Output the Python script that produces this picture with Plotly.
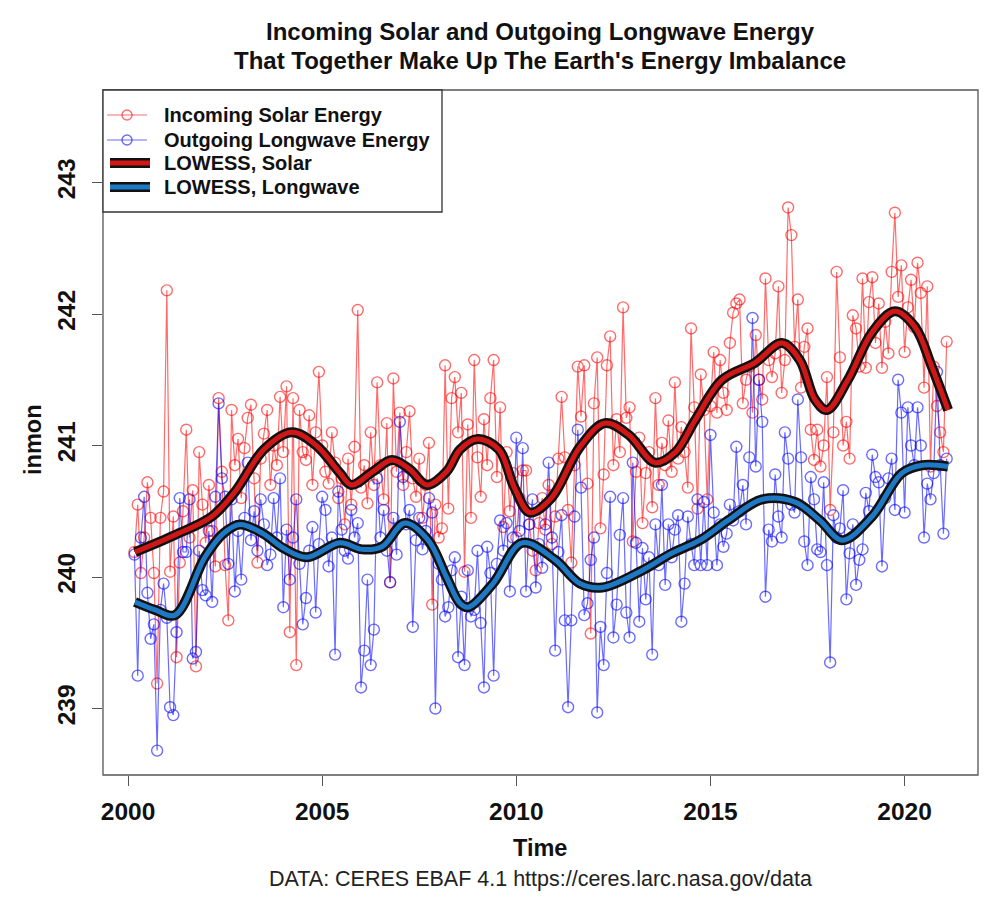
import plotly.graph_objects as go

# ---------------- data (monthly, starting March 2000) ----------------
start_year = 2000
start_month = 3

solar = [
    240.19, 240.55, 240.03, 240.30, 240.72, 240.45, 240.03, 239.19, 240.45, 240.65, 242.18, 240.04,
    240.46, 239.39, 240.11, 240.50, 241.12, 240.30, 240.66, 239.32, 240.95, 240.55, 240.26, 240.70,
    240.35, 240.08, 241.36, 240.80, 240.09, 239.67, 241.27, 240.85, 241.05, 240.60, 240.98, 241.21,
    241.31, 240.75, 240.11, 240.90, 241.09, 241.27, 240.70, 241.00, 240.85, 241.37, 240.95, 241.45,
    239.58, 241.36, 239.33, 241.27, 240.95, 240.89, 241.23, 240.70, 241.10, 241.56, 241.00, 240.80,
    240.71, 241.10, 240.87, 240.60, 240.75, 240.40, 240.90, 240.55, 240.99, 242.03, 240.68, 240.85,
    240.56, 241.10, 240.70, 241.48, 240.85, 240.59, 241.17, 239.96, 241.51, 240.80, 241.25, 240.70,
    240.95, 241.26, 240.75, 240.61, 240.90, 240.45, 240.70, 241.02, 239.79, 240.55, 240.30, 240.37,
    241.61, 240.52, 241.36, 241.52, 241.10, 241.40, 240.04, 241.16, 240.45, 241.65, 240.91, 240.61,
    241.20, 240.85, 241.36, 241.65, 240.76, 241.29, 240.38, 240.95, 240.50, 240.79, 240.30, 240.60,
    240.81, 240.81, 240.40, 240.20, 240.05, 240.41, 240.60, 240.36, 240.70, 240.25, 240.46, 240.90,
    241.37, 240.91, 240.51, 240.11, 240.85, 241.60, 241.22, 241.61, 240.71, 239.57, 241.32, 241.67,
    240.37, 240.78, 241.61, 241.83, 240.85, 241.20, 240.95, 242.05, 241.21, 241.29, 240.27, 240.80,
    241.06, 240.41, 240.79, 240.95, 240.53, 241.36, 240.70, 241.02, 240.85, 241.19, 240.80, 241.48,
    240.90, 241.14, 240.95, 240.68, 241.89, 241.29, 240.52, 241.54, 241.27, 240.59, 241.30, 241.71,
    241.25, 241.65, 241.40, 241.27, 241.78, 242.01, 242.08, 242.11, 241.32, 241.50, 241.60, 241.25,
    241.84, 241.50, 241.35, 242.27, 241.65, 241.52, 241.70, 242.21, 241.40, 241.65, 242.81, 242.60,
    241.75, 242.11, 241.44, 241.75, 241.89, 241.12, 240.89, 241.12, 240.84, 241.00, 241.52, 240.51,
    241.10, 242.32, 241.67, 241.00, 241.18, 240.90, 241.99, 241.89, 241.60, 242.27, 241.59, 242.09,
    242.28, 241.78, 242.08, 241.59, 241.94, 241.70, 242.32, 242.77, 242.13, 242.37, 241.71, 242.05,
    242.26, 241.90, 242.39, 242.16, 241.44, 242.21, 240.84, 241.60, 241.30, 241.10, 240.95, 241.79,
]

longwave = [
    240.17, 239.25, 240.30, 240.61, 239.88, 239.53, 239.64, 238.68, 239.75, 239.95, 239.69, 239.01,
    238.95, 239.58, 240.60, 240.19, 240.19, 240.59, 239.38, 239.43, 240.20, 239.90, 239.86, 240.35,
    239.81, 240.61, 241.32, 240.75, 240.61, 240.10, 240.59, 239.89, 240.35, 239.98, 240.45, 240.87,
    240.28, 240.50, 240.20, 240.59, 240.40, 240.09, 240.17, 240.60, 240.30, 240.75, 239.77, 240.36,
    239.98, 240.30, 240.59, 240.10, 239.64, 239.84, 240.20, 240.38, 239.73, 240.25, 240.61, 240.51,
    240.08, 240.30, 239.41, 240.65, 240.36, 240.20, 240.14, 240.51, 240.30, 240.41, 239.16, 239.44,
    239.98, 239.33, 239.60, 240.75, 240.30, 240.51, 240.20, 239.96, 240.45, 240.17, 241.18, 240.76,
    240.40, 240.51, 239.62, 240.28, 240.45, 240.21, 240.35, 240.60, 240.49, 239.00, 240.10, 239.98,
    239.70, 239.77, 240.05, 240.15, 239.39, 239.85, 239.33, 240.05, 239.70, 239.75, 240.20, 239.65,
    239.16, 240.23, 240.03, 239.25, 240.10, 240.43, 240.20, 240.41, 239.89, 240.30, 241.06, 240.35,
    240.98, 239.89, 240.40, 240.59, 239.92, 240.25, 240.07, 240.40, 240.87, 240.30, 239.44, 240.19,
    240.47, 239.67, 239.01, 239.67, 240.46, 241.12, 240.68, 239.71, 239.80, 240.13, 240.30, 238.97,
    239.62, 239.33, 240.03, 240.61, 239.54, 239.79, 240.32, 240.60, 239.73, 239.54, 240.87, 240.26,
    239.66, 240.22, 239.83, 240.15, 239.41, 240.40, 240.09, 240.70, 239.94, 240.40, 240.15, 240.36,
    240.47, 239.66, 239.95, 240.46, 240.25, 240.09, 240.59, 240.09, 240.57, 240.09, 241.08, 240.49,
    240.09, 240.40, 240.23, 240.33, 240.55, 240.43, 240.99, 240.50, 240.70, 240.40, 240.91, 241.97,
    240.84, 241.50, 241.18, 239.85, 240.36, 240.27, 240.78, 240.46, 240.30, 241.10, 240.90, 240.55,
    240.49, 241.35, 240.91, 240.27, 240.09, 240.76, 240.59, 240.21, 240.19, 240.72, 240.09, 239.35,
    240.47, 240.30, 240.37, 240.66, 239.83, 240.18, 240.40, 239.94, 240.13, 240.21, 240.64, 240.50,
    240.93, 240.76, 240.72, 240.08, 240.60, 240.75, 240.90, 240.51, 241.50, 241.25, 240.49, 241.29,
    241.00, 240.85, 241.29, 241.00, 240.30, 240.71, 240.59, 240.79, 241.56, 240.85, 240.33, 240.90,
]

# LOWESS curves (time, value)
lowess_solar_t = [2000.18, 2001.21, 2002.16, 2002.76, 2003.5, 2004.22, 2004.85, 2005.46, 2005.75,
                  2006.3, 2006.8, 2007.25, 2007.7, 2008.2, 2008.55, 2009.0, 2009.55, 2009.95,
                  2010.35, 2010.9, 2011.64, 2012.28, 2012.9, 2013.57, 2014.1, 2014.6, 2015.3,
                  2016.15, 2016.84, 2017.3, 2017.69, 2018.0, 2018.54, 2019.16, 2019.75, 2020.27,
                  2020.7, 2021.12]
lowess_solar_v = [240.19, 240.32, 240.46, 240.65, 240.97, 241.10, 241.00, 240.79, 240.70,
                  240.80, 240.89, 240.82, 240.70, 240.80, 240.97, 241.05, 240.97, 240.68,
                  240.49, 240.60, 240.99, 241.17, 241.08, 240.87, 240.95, 241.19, 241.50,
                  241.63, 241.78, 241.65, 241.35, 241.27, 241.50, 241.86, 242.02, 241.90,
                  241.60, 241.27]

lowess_lw_t = [2000.18, 2000.7, 2001.21, 2001.98, 2002.45, 2002.88, 2003.48, 2004.0, 2004.61,
               2005.46, 2006.03, 2006.54, 2007.13, 2007.73, 2008.2, 2008.55, 2008.76, 2009.4,
               2010.15, 2011.0, 2011.64, 2012.21, 2013.24, 2014.0, 2014.73, 2015.45, 2016.33,
               2017.18, 2017.82, 2018.39, 2019.16, 2019.93, 2020.45, 2021.12]
lowess_lw_v = [239.81, 239.75, 239.71, 240.15, 240.33, 240.40, 240.33, 240.22, 240.15,
               240.26, 240.21, 240.23, 240.41, 240.28, 240.00, 239.80, 239.77, 239.95,
               240.26, 240.13, 239.95, 239.92, 240.05, 240.18, 240.28, 240.43, 240.59,
               240.57, 240.43, 240.28, 240.46, 240.79, 240.85, 240.84]

x_ticks = [2000, 2005, 2010, 2015, 2020]
y_ticks = [239, 240, 241, 242, 243]
legend_labels = ["Incoming Solar Energy", "Outgoing Longwave Energy",
                 "LOWESS, Solar", "LOWESS, Longwave"]
title_lines = ["Incoming Solar and Outgoing Longwave Energy",
               "That Together Make Up The Earth's Energy Imbalance"]
caption = "DATA: CERES EBAF 4.1 https://ceres.larc.nasa.gov/data"

# ---------------- styling ----------------
W, H = 986, 897
L, R, T, B = 103, 978, 90, 775   # plot box in pixels
FONT = "Liberation Sans, Arial, Helvetica, sans-serif"
RED_RAW = "rgba(255,0,0,0.58)"
BLUE_RAW = "rgba(0,0,255,0.58)"
RED_LOW = "#cf1717"
BLUE_LOW = "#1f78c4"

def px(x):
    return (x - L) / (R - L)

def py(y):
    return (B - y) / (B - T)

n = min(len(solar), len(longwave))
time = [start_year + (start_month - 1 + i) / 12 for i in range(n)]

fig = go.Figure()
fig.add_trace(go.Scatter(x=time, y=solar[:n], mode="lines+markers",
                         line=dict(color=RED_RAW, width=1.2),
                         marker=dict(symbol="circle-open", size=11, color=RED_RAW,
                                     line=dict(width=1.4, color=RED_RAW)),
                         showlegend=False, hoverinfo="skip"))
fig.add_trace(go.Scatter(x=time, y=longwave[:n], mode="lines+markers",
                         line=dict(color=BLUE_RAW, width=1.2),
                         marker=dict(symbol="circle-open", size=11, color=BLUE_RAW,
                                     line=dict(width=1.4, color=BLUE_RAW)),
                         showlegend=False, hoverinfo="skip"))
for tt, vv, col in [(lowess_solar_t, lowess_solar_v, RED_LOW),
                    (lowess_lw_t, lowess_lw_v, BLUE_LOW)]:
    fig.add_trace(go.Scatter(x=tt, y=vv, mode="lines",
                             line=dict(color="#111111", width=10, shape="spline", smoothing=1.0),
                             showlegend=False, hoverinfo="skip"))
    fig.add_trace(go.Scatter(x=tt, y=vv, mode="lines",
                             line=dict(color=col, width=5, shape="spline", smoothing=1.0),
                             showlegend=False, hoverinfo="skip"))

shapes = []
# plot box
shapes.append(dict(type="rect", xref="paper", yref="paper", x0=0, x1=1, y0=0, y1=1,
                   line=dict(color="#555555", width=1.3)))
# legend box
shapes.append(dict(type="rect", xref="paper", yref="paper",
                   x0=px(103), x1=px(442), y0=py(212), y1=py(90),
                   line=dict(color="#333333", width=1.3), fillcolor="white"))
rows_y = [115, 140, 163, 187]
for yy, col in [(rows_y[0], RED_RAW), (rows_y[1], BLUE_RAW)]:
    shapes.append(dict(type="line", xref="paper", yref="paper",
                       x0=px(107), x1=px(147), y0=py(yy), y1=py(yy),
                       line=dict(color=col, width=1.2)))
    shapes.append(dict(type="circle", xref="paper", yref="paper",
                       x0=px(122), x1=px(132), y0=py(yy + 5), y1=py(yy - 5),
                       line=dict(color=col, width=1.4), fillcolor="rgba(0,0,0,0)"))
for yy, col in [(rows_y[2], RED_LOW), (rows_y[3], BLUE_LOW)]:
    shapes.append(dict(type="line", xref="paper", yref="paper",
                       x0=px(110), x1=px(150), y0=py(yy), y1=py(yy),
                       line=dict(color="#111111", width=10)))
    shapes.append(dict(type="line", xref="paper", yref="paper",
                       x0=px(110), x1=px(150), y0=py(yy), y1=py(yy),
                       line=dict(color=col, width=5)))

annotations = []
for lab, yy in zip(legend_labels, rows_y):
    annotations.append(dict(text=lab, xref="paper", yref="paper", x=px(162), y=py(yy),
                            xanchor="left", yanchor="middle", showarrow=False,
                            font=dict(family=FONT, size=20, color="#111111", weight="bold")))
for line, yy in zip(title_lines, [31, 61]):
    annotations.append(dict(text=line, xref="paper", yref="paper", x=px(540), y=py(yy),
                            xanchor="center", yanchor="middle", showarrow=False,
                            font=dict(family=FONT, size=24, color="#111111", weight="bold")))
annotations.append(dict(text="Time", xref="paper", yref="paper", x=px(540), y=py(848),
                        xanchor="center", yanchor="middle", showarrow=False,
                        font=dict(family=FONT, size=23.5, color="#111111", weight="bold")))
annotations.append(dict(text="inmon", xref="paper", yref="paper", x=px(33), y=py(440),
                        xanchor="center", yanchor="middle", showarrow=False, textangle=-90,
                        font=dict(family=FONT, size=23.5, color="#111111", weight="bold")))
annotations.append(dict(text=caption, xref="paper", yref="paper", x=px(540), y=py(879),
                        xanchor="center", yanchor="middle", showarrow=False,
                        font=dict(family=FONT, size=21.5, color="#222222")))

x0_range = 2000 + (L - 128) / 38.83
x1_range = 2000 + (R - 128) / 38.83
y0_range = 240 - (B - 577) / 131.5
y1_range = 240 + (577 - T) / 131.5

fig.update_layout(
    width=W, height=H, autosize=False,
    margin=dict(l=L, r=W - R, t=T, b=H - B, pad=0),
    paper_bgcolor="white", plot_bgcolor="white",
    showlegend=False,
    shapes=shapes, annotations=annotations,
    xaxis=dict(range=[x0_range, x1_range], tickvals=x_ticks, ticktext=[str(v) for v in x_ticks],
               showgrid=False, zeroline=False, showline=False,
               ticks="outside", ticklen=10, tickwidth=1.3, tickcolor="#555555",
               ticklabelstandoff=5,
               tickfont=dict(family=FONT, size=24.5, color="#111111", weight="bold")),
    yaxis=dict(range=[y0_range, y1_range], tickvals=y_ticks, ticktext=[str(v) for v in y_ticks],
               showgrid=False, zeroline=False, showline=False,
               ticks="outside", ticklen=10, tickwidth=1.3, tickcolor="#555555",
               tickangle=-90, ticklabelstandoff=7,
               tickfont=dict(family=FONT, size=24.5, color="#111111", weight="bold")),
)

# remove the browser's default page margin so the figure sits at the window's top-left corner
fig.write_html("out.html", config={"displayModeBar": False},
               post_script="document.body.style.margin='0';document.body.style.overflow='hidden';")
